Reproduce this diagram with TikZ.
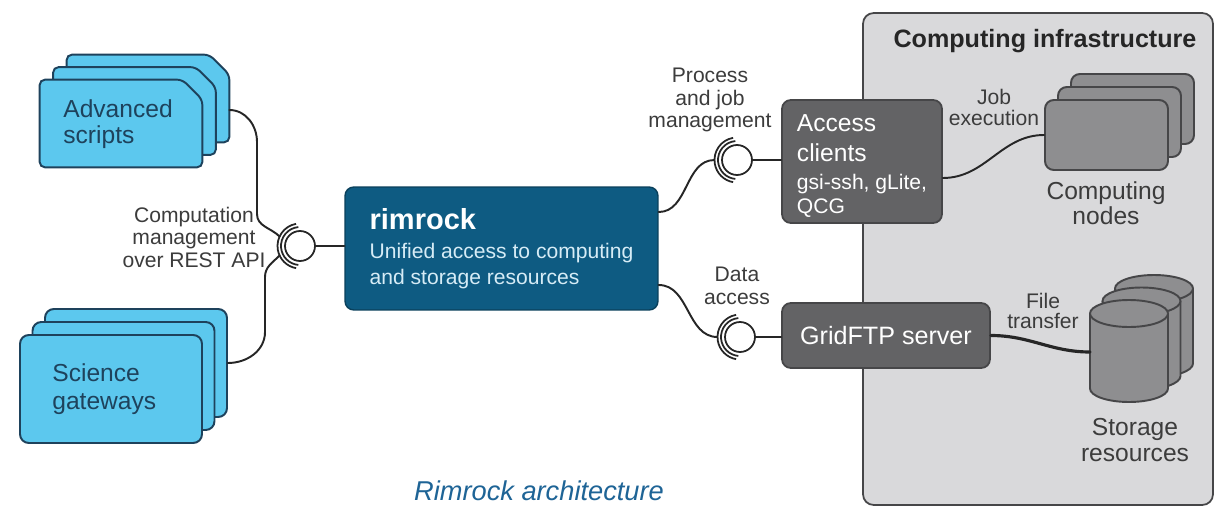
\documentclass[tikz,border=0pt]{standalone}
\usepackage{fontspec}
\setmainfont{Liberation Sans}
\usetikzlibrary{calc}

\definecolor{cardblue}{RGB}{92,200,238}
\definecolor{carddark}{RGB}{30,66,92}
\definecolor{rimblue}{RGB}{14,91,130}
\definecolor{rimtext}{RGB}{214,236,246}
\definecolor{boxgrey}{RGB}{99,99,101}
\definecolor{nodegrey}{RGB}{142,142,144}
\definecolor{infragrey}{RGB}{217,217,219}
\definecolor{edgegrey}{RGB}{70,70,72}
\definecolor{labelgrey}{RGB}{60,60,60}
\definecolor{titleblue}{RGB}{30,100,150}

\begin{document}
\begin{tikzpicture}[x=0.02cm,y=0.02cm]
\tikzset{
  scriptcard/.style={rectangle,minimum width=3.24cm,minimum height=1.74cm,inner sep=0pt},
  cardline/.style={draw=carddark,fill=cardblue,line width=1.1pt,rounded corners=3pt},
  gatecard/.style={rectangle,draw=carddark,fill=cardblue,line width=1.1pt,rounded corners=5pt,minimum width=3.64cm,minimum height=2.16cm,inner sep=0pt},
  cardtext/.style={anchor=west,inner sep=0pt,text=carddark,font=\fontsize{14}{14.7}\selectfont,align=left},
  mainbox/.style={rectangle,draw=rimblue!70!black,fill=rimblue,line width=0.8pt,rounded corners=5pt,minimum width=6.26cm,minimum height=2.46cm,inner sep=0pt,text=rimtext,font=\fontsize{12}{14.7}\selectfont,align=left},
  clientbox/.style={rectangle,draw=edgegrey,fill=boxgrey,line width=1pt,rounded corners=5pt,inner sep=0pt,text=white,align=left},
  nodecard/.style={rectangle,draw=edgegrey,fill=nodegrey,line width=1.1pt,rounded corners=5pt,minimum width=2.46cm,minimum height=1.4cm},
  drum/.style={draw=edgegrey,fill=nodegrey,line width=1.1pt},
  ball/.style={circle,draw=black!85,line width=1pt,fill=white,minimum size=0.6cm,inner sep=0pt},
  cup/.style={draw=black!85,line width=1pt},
  wire/.style={draw=black!85,line width=1.1pt,line cap=round},
  lbl/.style={text=labelgrey,align=center,font=\fontsize{12}{12.8}\selectfont}
}
\useasboundingbox (0,0) rectangle (1215,512);
\fill[white] (0,0) rectangle (1215,512);

\node[draw=edgegrey,fill=infragrey,line width=1pt,rounded corners=6pt,minimum width=7cm,minimum height=9.84cm,inner sep=0pt] (n_ci) at (1038,253) {};
\node[anchor=base,font=\fontsize{14.3}{16}\selectfont\bfseries,text=black!85] (n_citl) at (1045,465) {Computing infrastructure};

\node[scriptcard] (n_as2) at (148,413.5) {};
\draw[cardline] (n_as2.south west) -- (n_as2.north west) -- ([xshift=-0.4cm]n_as2.north east) -- ([yshift=-0.4cm]n_as2.north east) -- (n_as2.south east) -- cycle;
\node[scriptcard] (n_as1) at (134.5,401) {};
\draw[cardline] (n_as1.south west) -- (n_as1.north west) -- ([xshift=-0.4cm]n_as1.north east) -- ([yshift=-0.4cm]n_as1.north east) -- (n_as1.south east) -- cycle;
\node[scriptcard] (n_as0) at (121,388.5) {};
\draw[cardline] (n_as0.south west) -- (n_as0.north west) -- ([xshift=-0.4cm]n_as0.north east) -- ([yshift=-0.4cm]n_as0.north east) -- (n_as0.south east) -- cycle;
\node[cardtext] (n_ast) at (63,388) {Advanced\\scripts};

\node[gatecard] (n_sg2) at (136,149) {};
\node[gatecard] (n_sg1) at (123.5,136) {};
\node[gatecard] (n_sg0) at (111,123) {};
\node[cardtext] (n_sgt) at (52,123) {Science\\[1pt]gateways};

\node[mainbox] (n_rr) at (501.5,263.5) {{\color{white}\fontsize{16.5}{16.5}\selectfont\bfseries rimrock}\\[1.8pt]Unified access to computing\\and storage resources};

\node[clientbox,minimum width=3.2cm,minimum height=2.46cm,font=\fontsize{14}{17}\selectfont] (n_ac) at (862,350.5) {\rule{0pt}{14.5pt}Access\\clients\\[-1.1pt]\fontsize{12}{13.6}\selectfont gsi-ssh, gLite,\\[-3.4pt]\fontsize{12}{13.6}\selectfont QCG};
\node[clientbox,minimum width=4.16cm,minimum height=1.3cm,font=\fontsize{14.3}{16}\selectfont] (n_gf) at (886,176.5) {GridFTP server};

\node[nodecard] (n_cn2) at (1132.5,403) {};
\node[nodecard] (n_cn1) at (1119.5,390) {};
\node[nodecard] (n_cn0) at (1106.5,377) {};

\foreach \dx in {25,12.5,0} {
  \begin{scope}[shift={(\dx,\dx)}]
    \draw[drum] (1090,198.5) -- (1090,123.5) arc (180:360:39 and 13.5) -- (1168,198.5) arc (0:180:39 and 13.5) -- cycle;
    \draw[drum] (1090,198.5) arc (180:360:39 and 13.5);
  \end{scope}
}
\coordinate (n_st0) at (1090,160);

\node[ball] (n_s1) at (300,266) {};
\node[ball] (n_s2) at (737,352) {};
\node[ball] (n_s3) at (740,175) {};
\foreach \s in {n_s1,n_s2,n_s3} {
  \draw[cup] ($(\s)+(95:19)$) arc (95:265:19);
  \draw[cup] ($(\s)+(100:22.5)$) arc (100:260:22.5);
}

\node[lbl] (n_cml) at (194,275) {Computation\\management\\over REST API};
\node[lbl] (n_pjl) at (710,412) {Process\\and job\\management};
\node[lbl] (n_dal) at (737,226) {Data\\access};
\node[lbl,font=\fontsize{12}{11.5}\selectfont] (n_jel) at (994,404.5) {Job\\execution};
\node[lbl,font=\fontsize{12}{11.5}\selectfont] (n_ftl) at (1043,201) {File\\transfer};
\node[lbl,font=\fontsize{14}{14.5}\selectfont] (n_cnl) at (1106,309) {Computing\\nodes};
\node[lbl,font=\fontsize{14}{15.3}\selectfont] (n_srl) at (1135,72) {Storage\\resources};

\node[anchor=base,font=\fontsize{15.5}{18}\selectfont\itshape,text=titleblue] (n_ttl) at (539,12) {Rimrock architecture};

\draw[wire] ([yshift=-0.23cm]n_as2.east) to[out=0,in=90] (257,370) -- (257,298) to[out=-90,in=135] ($(n_s1)+(155:22.5)$);
\draw[wire] (n_sg2.east) to[out=0,in=-90] (265,180) -- (265,235) to[out=90,in=225] ($(n_s1)+(205:22.5)$);
\draw[wire] (n_s1.east) -- (n_s1.east -| n_rr.west);
\draw[wire] ([yshift=0.73cm]n_rr.east) to[out=0,in=180] ($(n_s2)+(180:22.5)$);
\draw[wire] ([yshift=-0.73cm]n_rr.east) to[out=0,in=180] ($(n_s3)+(180:22.5)$);
\draw[wire] (n_s2.east) -- (n_s2.east -| n_ac.west);
\draw[wire] (n_s3.east) -- (n_s3.east -| n_gf.west);
\draw[wire] ([yshift=-0.33cm]n_ac.east) to[out=0,in=180] (n_cn0.west);
\draw[wire,line width=1.8pt] (n_gf.east) to[out=0,in=180] (n_st0);
\end{tikzpicture}
\end{document}
